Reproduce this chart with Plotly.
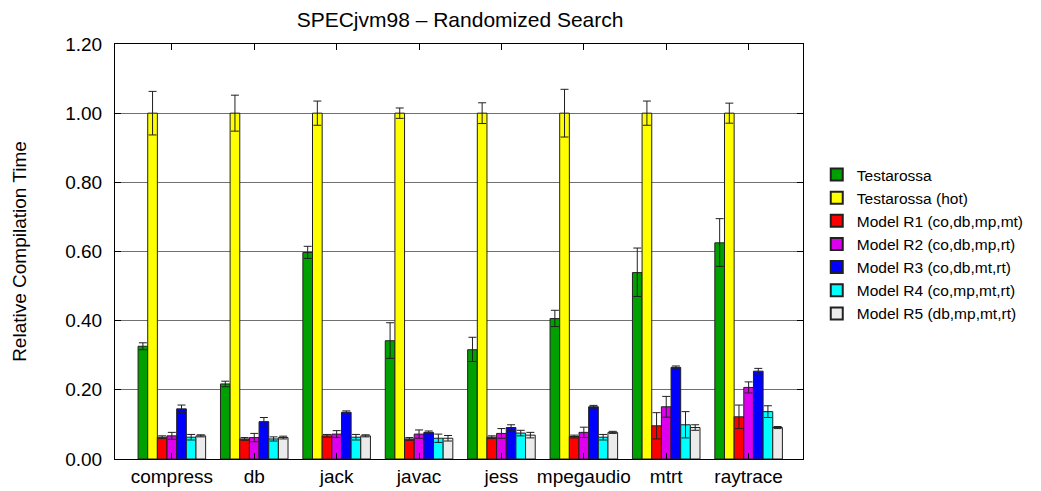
import plotly.graph_objects as go

BENCHMARKS = ["compress", "db", "jack", "javac", "jess", "mpegaudio", "mtrt", "raytrace"]

SERIES = [
    "Testarossa",
    "Testarossa (hot)",
    "Model R1 (co,db,mp,mt)",
    "Model R2 (co,db,mp,rt)",
    "Model R3 (co,db,mt,rt)",
    "Model R4 (co,mp,mt,rt)",
    "Model R5 (db,mp,mt,rt)",
]
COLORS = ["#00a000", "#ffff00", "#ff0000", "#dd00ee", "#0000ff", "#00ffff", "#ebebeb"]

# mean values per series (rows) and benchmark (columns)
testarossa = [0.326, 0.217, 0.597, 0.342, 0.316, 0.406, 0.539, 0.625]
testarossa_hot = [1.00, 1.00, 1.00, 1.00, 1.00, 1.00, 1.00, 1.00]
model_r1 = [0.063, 0.058, 0.067, 0.058, 0.063, 0.065, 0.096, 0.122]
model_r2 = [0.067, 0.062, 0.072, 0.072, 0.074, 0.077, 0.151, 0.207]
model_r3 = [0.145, 0.108, 0.135, 0.077, 0.091, 0.151, 0.265, 0.254]
model_r4 = [0.063, 0.058, 0.063, 0.060, 0.075, 0.063, 0.099, 0.137]
model_r5 = [0.067, 0.062, 0.067, 0.060, 0.069, 0.077, 0.091, 0.091]

# error bar half-ranges (upper, lower)
testarossa_up = [0.010, 0.008, 0.018, 0.052, 0.036, 0.024, 0.071, 0.070]
testarossa_dn = [0.010, 0.008, 0.017, 0.051, 0.034, 0.023, 0.069, 0.068]
hot_err = [0.063, 0.052, 0.035, 0.015, 0.030, 0.069, 0.035, 0.029]
r1_err = [0.004, 0.004, 0.004, 0.004, 0.004, 0.004, 0.038, 0.034]
r2_err = [0.010, 0.012, 0.010, 0.012, 0.014, 0.015, 0.030, 0.016]
r3_err = [0.011, 0.012, 0.004, 0.004, 0.008, 0.004, 0.004, 0.008]
r4_err = [0.008, 0.006, 0.008, 0.012, 0.008, 0.008, 0.038, 0.017]
r5_err = [0.003, 0.004, 0.003, 0.008, 0.008, 0.003, 0.008, 0.003]

VALUES = [testarossa, testarossa_hot, model_r1, model_r2, model_r3, model_r4, model_r5]
ERR_UP = [testarossa_up, hot_err, r1_err, r2_err, r3_err, r4_err, r5_err]
ERR_DN = [testarossa_dn, hot_err, r1_err, r2_err, r3_err, r4_err, r5_err]

FONT = "Liberation Sans, Arial, sans-serif"

fig = go.Figure()
for name, color, vals, up, dn in zip(SERIES, COLORS, VALUES, ERR_UP, ERR_DN):
    fig.add_trace(go.Bar(
        x=BENCHMARKS, y=vals, name=name,
        marker=dict(color=color, line=dict(color="#202020", width=1)),
        error_y=dict(type="data", symmetric=False, array=up, arrayminus=dn,
                     color="#202020", thickness=1, width=4),
    ))

# the page body adds an 8px offset, so the figure is 8px smaller than the window
fig.update_layout(
    barmode="group",
    bargap=0.18,
    bargroupgap=0,
    width=1033, height=483,
    paper_bgcolor="white", plot_bgcolor="white",
    font=dict(family=FONT, color="black"),
    title=dict(text="SPECjvm98 \u2013 Randomized Search", xref="container", x=0.4376,
               xanchor="center", yref="container", y=0.975, yanchor="middle",
               font=dict(size=21)),
    margin=dict(l=107, r=227, t=36, b=32),
    legend=dict(x=1.02, y=0.517, xanchor="left", yanchor="middle",
                font=dict(size=15.5), tracegroupgap=0, itemsizing="constant"),
)
fig.update_xaxes(
    range=[-0.69, 7.66], showline=True, linecolor="black", linewidth=1, mirror="ticks",
    ticks="inside", ticklen=6, tickcolor="black", showgrid=False,
    tickfont=dict(size=19), automargin=False,
)
fig.update_yaxes(
    range=[0, 1.2], dtick=0.2, tickformat=".2f", showline=True, linecolor="black",
    linewidth=1, mirror="ticks", ticks="inside", ticklen=6, tickcolor="black",
    showgrid=True, gridcolor="#707070", gridwidth=1, zeroline=False,
    tickfont=dict(size=19), ticklabelstandoff=8, automargin=False,
    title=dict(text="Relative Compilation Time", font=dict(size=19), standoff=33),
)

fig.write_html("out.html")
